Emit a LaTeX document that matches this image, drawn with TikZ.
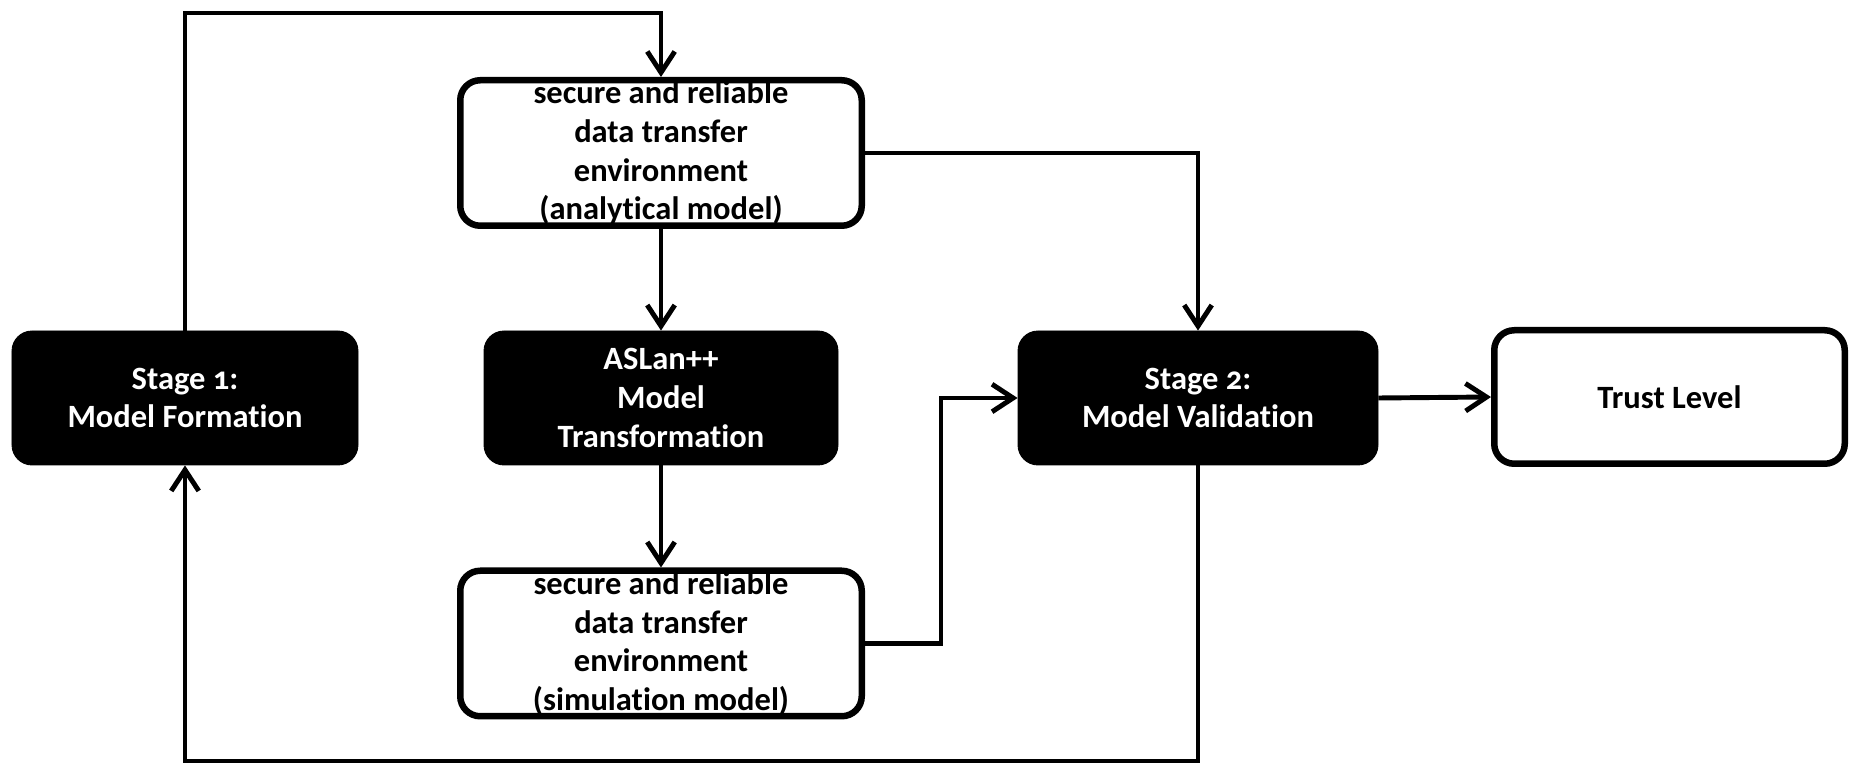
\documentclass[tikz,border=0pt]{standalone}
\usepackage{fontspec}
\setmainfont{Carlito}[Numbers=OldStyle,Ligatures=NoCommon]
\usetikzlibrary{arrows.meta}

\begin{document}
\begin{tikzpicture}[
    lbox/.style={draw=black,line width=3.7pt,rounded corners=0.4cm,fill=white,
                 align=center,inner sep=0pt,
                 font=\bfseries\fontsize{18.5}{22}\selectfont},
    dbox/.style={lbox,line width=0.5pt,fill=black,text=white},
    flow/.style={line width=2.8pt,
                 -{Straight Barb[length=0.42cm,width=0.55cm,line width=2.8pt]}},
]
    \useasboundingbox (0,0) rectangle (37.02,15.3);

    % middle column
    \node[lbox,minimum width=8.03cm,minimum height=2.91cm] at (13.22,12.24) (analytic)
        {secure and reliable\\data transfer\\environment\\(analytical model)};
    \node[dbox,minimum width=7.08cm,minimum height=2.68cm] at (13.22,7.34) (aslan)
        {ASLan++\\Model\\Transformation};
    \node[lbox,minimum width=8.03cm,minimum height=2.91cm] at (13.22,2.43) (sim)
        {secure and reliable\\data transfer\\environment\\(simulation model)};

    % stages
    \node[dbox,minimum width=6.92cm,minimum height=2.68cm] at (3.70,7.34) (stage1)
        {Stage 1:\\Model Formation};
    \node[dbox,minimum width=7.2cm,minimum height=2.68cm] at (23.96,7.34) (stage2)
        {Stage 2:\\Model Validation};
    \node[lbox,minimum width=7.01cm,minimum height=2.67cm] at (33.39,7.36) (trust)
        {Trust Level};

    % bend points
    \coordinate (top) at (13.22,15.04);
    \coordinate (bend) at (18.82,2.43);
    \coordinate (bottom) at (23.96,0.08);

    \draw[flow] (stage1.north) |- (top) -- (analytic.north);
    \draw[flow] (analytic.south) -- (aslan.north);
    \draw[flow] (aslan.south) -- (sim.north);
    \draw[flow] (analytic.east) -| (stage2.north);
    \draw[flow] (sim.east) -- (bend) |- (stage2.west);
    \draw[flow] (stage2.east) -- (trust.west);
    \draw[flow] (stage2.south) -- (bottom) -| (stage1.south);
\end{tikzpicture}
\end{document}
